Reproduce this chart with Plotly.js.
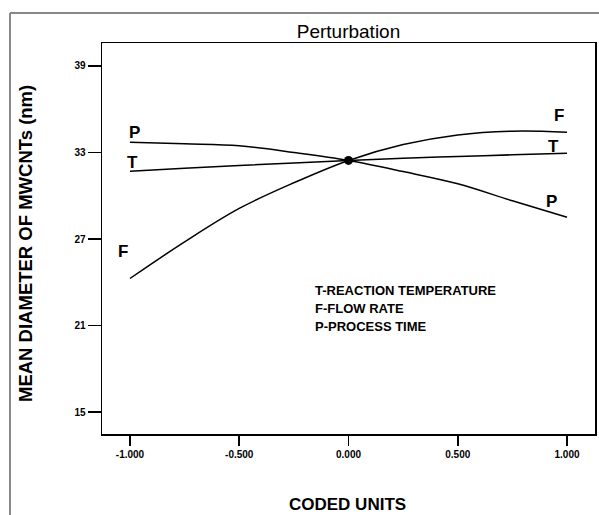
<!DOCTYPE html>
<html>
<head>
<meta charset="utf-8">
<script src="https://cdn.plot.ly/plotly-3.0.1.min.js"></script>
<style>
html,body{margin:0;padding:0;background:#fff;}
#chart{width:599px;height:515px;}
</style>
</head>
<body>
<div id="chart"></div>
<script>
// Coded units (x) and perturbation curves
const codedUnits = [-1, -0.75, -0.5, -0.25, 0, 0.25, 0.5, 0.75, 1];
const flowRate = [24.26, 26.8, 29.12, 30.9, 32.45, 33.55, 34.22, 34.48, 34.41];
const reactionTemp = [31.70, 31.9, 32.10, 32.28, 32.45, 32.6, 32.72, 32.84, 32.95];
const processTime = [33.71, 33.6, 33.46, 33.0, 32.45, 31.68, 30.83, 29.65, 28.51];
const centerX = [0];
const centerY = [32.45];

const xTickVals = [-1, -0.5, 0, 0.5, 1];
const xTickText = ['-1.000', '-0.500', '0.000', '0.500', '1.000'];
const yTickVals = [15, 21, 27, 33, 39];
const yTickText = ['15', '21', '27', '33', '39'];

const curveLabels = [
  {t: 'P', x: -0.98, y: 34.39},
  {t: 'T', x: -0.99, y: 32.3},
  {t: 'F', x: -1.03, y: 26.1},
  {t: 'F', x: 0.965, y: 35.57},
  {t: 'T', x: 0.94, y: 33.45},
  {t: 'P', x: 0.93, y: 29.57}
];
const legendLines = ['T-REACTION TEMPERATURE', 'F-FLOW RATE', 'P-PROCESS TIME'];

const lineStyle = {color: '#000', width: 1.5, shape: 'spline', smoothing: 1};
const traces = [
  {x: codedUnits, y: reactionTemp, mode: 'lines', line: lineStyle, name: 'T', hoverinfo: 'x+y'},
  {x: codedUnits, y: flowRate, mode: 'lines', line: lineStyle, name: 'F', hoverinfo: 'x+y'},
  {x: codedUnits, y: processTime, mode: 'lines', line: lineStyle, name: 'P', hoverinfo: 'x+y'},
  {x: centerX, y: centerY, mode: 'markers', marker: {color: '#000', size: 9}, name: 'center'}
];

const boldFont = 'Arial, "Liberation Sans", sans-serif';
const annotations = [];
curveLabels.forEach(l => annotations.push({
  text: '<b>' + l.t + '</b>', x: l.x, y: l.y, xref: 'x', yref: 'y',
  showarrow: false, font: {family: boldFont, size: 17, color: '#000'}
}));
legendLines.forEach((s, i) => annotations.push({
  text: '<b>' + s + '</b>', xref: 'paper', yref: 'paper',
  x: (313 - 102) / 493, y: (434 - (290 + i * 18)) / 391,
  showarrow: false, xanchor: 'left', yanchor: 'middle',
  font: {family: '"Liberation Sans Narrow", "Arial Narrow", Arial, sans-serif', size: 13, color: '#000'}
}));
annotations.push({
  text: '<b>MEAN DIAMETER OF MWCNTs (nm)</b>', xref: 'paper', yref: 'paper',
  x: (25 - 102) / 493, y: (434 - 244) / 391, textangle: -90, showarrow: false,
  xanchor: 'center', yanchor: 'middle',
  font: {family: boldFont, size: 18.5, color: '#000'}
});
annotations.push({
  text: '<b>CODED UNITS</b>', xref: 'paper', yref: 'paper',
  x: (347 - 102) / 493, y: (434 - 505) / 391, showarrow: false,
  xanchor: 'center', yanchor: 'middle',
  font: {family: boldFont, size: 17, color: '#000'}
});

const tickFont = {family: boldFont, size: 10, color: '#000', weight: 'bold'};
const layout = {
  width: 599, height: 515,
  margin: {l: 102, r: 4, t: 43, b: 81, pad: 0},
  paper_bgcolor: '#fff', plot_bgcolor: '#fff',
  showlegend: false,
  title: {text: 'Perturbation', x: 0.5, xref: 'paper', y: 1 - 31 / 515, yanchor: 'middle',
          font: {family: 'Arial, "Liberation Sans", sans-serif', size: 19, color: '#000'}},
  xaxis: {
    range: [-1.128, 1.128], tickvals: xTickVals, ticktext: xTickText,
    showgrid: false, zeroline: false, showline: true, linecolor: '#000', linewidth: 1.5, mirror: true,
    ticks: 'outside', ticklen: 10, tickwidth: 1.5, tickcolor: '#000',
    tickfont: tickFont, fixedrange: true
  },
  yaxis: {
    range: [13.474, 40.595], tickvals: yTickVals, ticktext: yTickText,
    showgrid: false, zeroline: false, showline: true, linecolor: '#000', linewidth: 1.5, mirror: true,
    ticks: 'outside', ticklen: 13, tickwidth: 1.5, tickcolor: '#000',
    tickfont: tickFont, fixedrange: true
  },
  annotations: annotations,
  shapes: [
    {type: 'line', xref: 'paper', yref: 'paper', x0: (10 - 102) / 493, x1: (10 - 102) / 493,
     y0: (434 - 13) / 391, y1: (434 - 530) / 391, line: {color: '#888', width: 2}},
    {type: 'line', xref: 'paper', yref: 'paper', x0: (10 - 102) / 493, x1: (599 - 102) / 493,
     y0: (434 - 13) / 391, y1: (434 - 13) / 391, line: {color: '#888', width: 2}}
  ]
};

Plotly.newPlot('chart', traces, layout, {displayModeBar: false, staticPlot: true});
</script>
</body>
</html>
